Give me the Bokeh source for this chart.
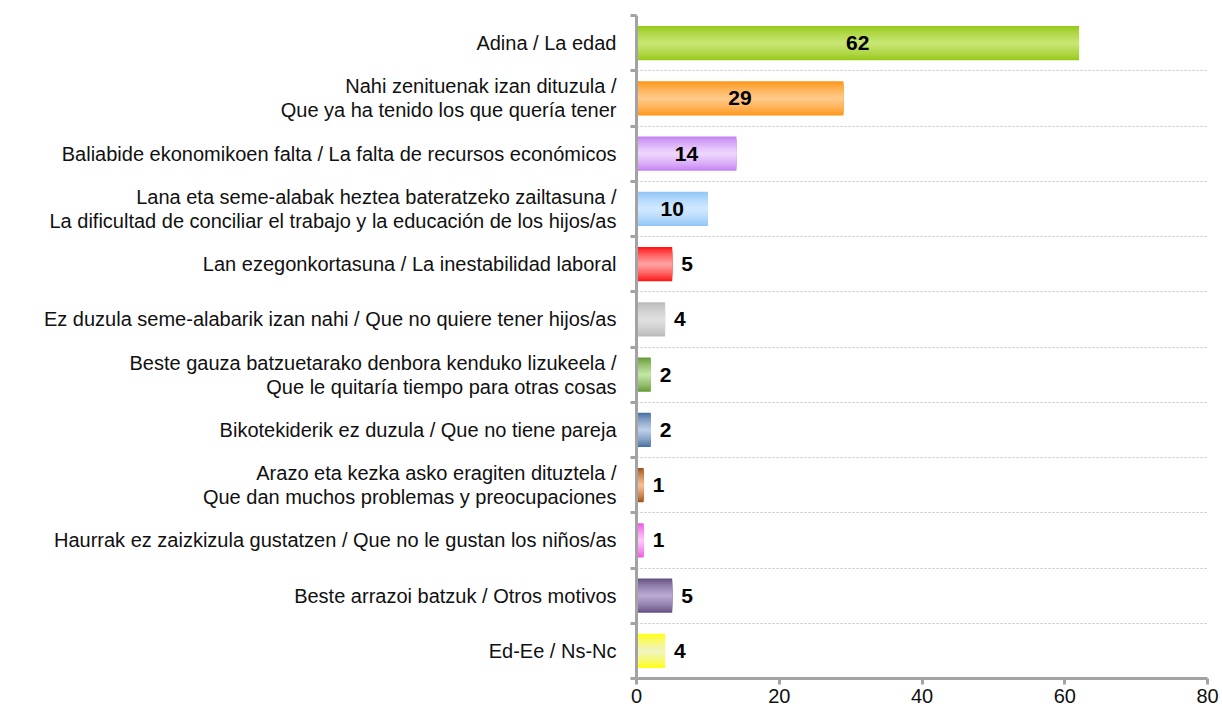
from bokeh.plotting import figure
from bokeh.models import ColumnDataSource, FixedTicker, Range1d
from bokeh.embed import file_html
from bokeh.resources import INLINE
from bokeh.core.properties import value

categories = [
    "Adina / La edad",
    "Nahi zenituenak izan dituzula /\nQue ya ha tenido los que quería tener",
    "Baliabide ekonomikoen falta / La falta de recursos económicos",
    "Lana eta seme-alabak heztea bateratzeko zailtasuna /\nLa dificultad de conciliar el trabajo y la educación de los hijos/as",
    "Lan ezegonkortasuna / La inestabilidad laboral",
    "Ez duzula seme-alabarik izan nahi / Que no quiere tener hijos/as",
    "Beste gauza batzuetarako denbora kenduko lizukeela /\nQue le quitaría tiempo para otras cosas",
    "Bikotekiderik ez duzula / Que no tiene pareja",
    "Arazo eta kezka asko eragiten dituztela /\nQue dan muchos problemas y preocupaciones",
    "Haurrak ez zaizkizula gustatzen / Que no le gustan los niños/as",
    "Beste arrazoi batzuk / Otros motivos",
    "Ed-Ee / Ns-Nc",
]
values = [62, 29, 14, 10, 5, 4, 2, 2, 1, 1, 5, 4]
x_ticks = [0, 20, 40, 60, 80]

edge_colors = ["#98CA1C", "#FF981C", "#C585F3", "#92C7F7", "#FF1818", "#BCBCBC",
               "#689C38", "#4C72A4", "#A4541A", "#F058E4", "#685385", "#FFFF18"]
center_colors = ["#C7E572", "#FFC886", "#EDD4FD", "#D0E8FF", "#FF9E9E", "#DFDFDF",
                 "#C0E4A2", "#BACDE5", "#F6BE90", "#FFC6FA", "#B8A8D0", "#F1F5BE"]

n = len(categories)
ys = [n - 1 - i for i in range(n)]
boundaries = [b - 0.5 for b in range(n + 1)]

FONT = "Liberation Sans"
AXIS_COLOR = "#A3A3A3"


def hex_to_rgb(h):
    h = h.lstrip("#")
    return tuple(int(h[i:i + 2], 16) for i in (0, 2, 4))


def mix(c1, c2, t):
    a, b = hex_to_rgb(c1), hex_to_rgb(c2)
    return "#%02x%02x%02x" % tuple(int(round(a[j] + (b[j] - a[j]) * t)) for j in range(3))


p = figure(
    width=1222, height=715,
    x_range=Range1d(0, 80), y_range=Range1d(-0.5, n - 0.5),
    output_backend="svg", toolbar_location=None,
    min_border_left=636, min_border_right=15, min_border_top=15, min_border_bottom=37,
)
p.outline_line_color = None
p.background_fill_color = "white"
p.border_fill_color = "white"

# gradient bars (layered)
BAR_H = 0.62
N = 10
for k in range(N):
    t = (k / (N - 1)) ** 0.8
    src = ColumnDataSource(dict(
        y=ys, right=values,
        color=[mix(e, c, t) for e, c in zip(edge_colors, center_colors)],
    ))
    p.hbar(y="y", left=0, right="right", height=BAR_H * (1 - k / N),
           fill_color="color", line_color=None, source=src)

# value labels
inside = [(v / 2, y, str(v)) for v, y in zip(values, ys) if v >= 10]
outside = [(v, y, str(v)) for v, y in zip(values, ys) if v < 10]
p.text(x=[a[0] for a in inside], y=[a[1] for a in inside], text=[a[2] for a in inside],
       text_align="center", text_baseline="middle", text_font=value(FONT),
       text_font_style="bold", text_font_size="21px", text_color="#000000")
p.text(x=[a[0] for a in outside], y=[a[1] for a in outside], text=[a[2] for a in outside],
       x_offset=9, text_align="left", text_baseline="middle", text_font=value(FONT),
       text_font_style="bold", text_font_size="21px", text_color="#000000")

# grids
p.xgrid.visible = False
p.ygrid.ticker = FixedTicker(ticks=boundaries[1:-1])
p.ygrid.grid_line_color = "#C4C4C4"
p.ygrid.grid_line_dash = "2 2"
p.ygrid.grid_line_width = 1

# y axis: labels at centers, ticks at boundaries (minor)
ya = p.yaxis[0]
ya.ticker = FixedTicker(ticks=ys, minor_ticks=boundaries)
ya.major_label_overrides = {y: c for y, c in zip(ys, categories)}
ya.major_tick_out = 0
ya.major_tick_in = 0
ya.minor_tick_out = 6
ya.minor_tick_in = 0
ya.minor_tick_line_color = AXIS_COLOR
ya.minor_tick_line_width = 3
ya.axis_line_color = AXIS_COLOR
ya.axis_line_width = 3
ya.major_label_standoff = 14
ya.major_label_text_font = FONT
ya.major_label_text_font_size = "20px"
ya.major_label_text_color = "#111111"
ya.major_label_text_line_height = 1.1

xa = p.xaxis[0]
xa.ticker = FixedTicker(ticks=x_ticks)
xa.major_tick_out = 6
xa.major_tick_in = 0
xa.minor_tick_out = 0
xa.minor_tick_in = 0
xa.major_tick_line_color = AXIS_COLOR
xa.major_tick_line_width = 3
xa.axis_line_color = AXIS_COLOR
xa.axis_line_width = 3
xa.major_label_standoff = 4
xa.major_label_text_font = FONT
xa.major_label_text_font_size = "20px"
xa.major_label_text_color = "#111111"

open("out.html", "w").write(file_html(p, INLINE))
